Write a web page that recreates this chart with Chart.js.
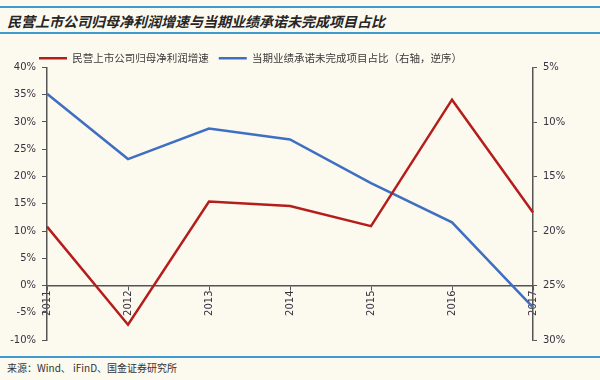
<!DOCTYPE html>
<html>
<head>
<meta charset="utf-8">
<script src="https://cdn.jsdelivr.net/npm/chart.js@4/dist/chart.umd.min.js"></script>
<style>
  html, body { margin:0; padding:0; background:#fcf9ef; }
  body { width:600px; height:380px; position:relative; overflow:hidden; font-family:"Noto Sans CJK SC", sans-serif; }
  .rule { position:absolute; left:0; width:600px; height:2px; background:#3f9bd0; }
  #title { position:absolute; left:7px; top:11px; font-family:"Noto Sans CJK SC"; font-size:14px; font-weight:bold; font-style:italic; color:#262626; white-space:nowrap; }
  #src { position:absolute; left:7px; top:360px; font-size:10px; color:#333; white-space:nowrap; }
  #c { position:absolute; left:0; top:40px; }
</style>
</head>
<body>
<div class="rule" style="top:6px"></div>
<div id="title">民营上市公司归母净利润增速与当期业绩承诺未完成项目占比</div>
<div class="rule" style="top:32px"></div>
<canvas id="c" width="600" height="312"></canvas>
<div class="rule" style="top:356px"></div>
<div id="src">来源：Wind、 iFinD、国金证券研究所</div>
<script>
const years = ["2011","2012","2013","2014","2015","2016","2017"];
const profitGrowth = [10.8, -7.2, 15.4, 14.6, 10.9, 34.1, 13.4];
const unfinishedShare = [7.4, 13.4, 10.6, 11.6, 15.6, 19.2, 27.0];
const leftTicks = [-10, 40, 5];
const rightTicks = [5, 30, 5];
const seriesNames = ["民营上市公司归母净利润增速", "当期业绩承诺未完成项目占比（右轴，逆序）"];

const axisColor = '#555555';
const tickFont = { family: 'DejaVu Sans', size: 10 };
const tickColor = '#3a3040';

const legendTweak = {
  id: 'legendTweak',
  beforeUpdate(chart) {
    const lg = chart.legend;
    if (lg && !lg._tweaked) {
      const orig = lg.fit;
      lg.fit = function () { orig.call(this); this.height -= 6; };
      lg._tweaked = true;
    }
  },
  afterLayout(chart) {
    const lg = chart.legend;
    if (lg) { const w = lg.right - lg.left; lg.left = 29; lg.right = 29 + w; }
  }
};

new Chart(document.getElementById('c'), {
  type: 'line',
  data: {
    labels: years,
    datasets: [
      { label: seriesNames[0], data: profitGrowth, yAxisID: 'y', borderColor: '#b51d1d', backgroundColor: '#b51d1d', borderWidth: 2.5, pointRadius: 0, tension: 0 },
      { label: seriesNames[1], data: unfinishedShare, yAxisID: 'y2', borderColor: '#3f6fc2', backgroundColor: '#3f6fc2', borderWidth: 2.5, pointRadius: 0, tension: 0 }
    ]
  },
  plugins: [legendTweak],
  options: {
    responsive: false,
    animation: false,
    devicePixelRatio: 1,
    layout: { padding: { left: 4, right: 4, top: 3, bottom: 8 } },
    plugins: {
      legend: {
        display: true,
        position: 'top',
        align: 'start',
        labels: { usePointStyle: true, pointStyle: 'line', pointStyleWidth: 28, boxWidth: 28, font: { family: 'Noto Sans CJK SC', size: 10.5 }, color: '#3a3a3a', padding: 10 }
      },
      tooltip: { enabled: false }
    },
    scales: {
      x: {
        type: 'category',
        position: { y: 0 },
        offset: false,
        grid: { display: true, drawOnChartArea: false, drawTicks: true, tickLength: 4, color: axisColor },
        border: { display: true, color: axisColor, width: 1.5 },
        ticks: { minRotation: 90, maxRotation: 90, font: tickFont, color: tickColor, padding: 1, autoSkip: false }
      },
      y: {
        position: 'left',
        min: leftTicks[0], max: leftTicks[1],
        grid: { display: true, drawOnChartArea: false, drawTicks: true, tickLength: 5, color: axisColor },
        border: { display: true, color: axisColor, width: 1.5 },
        ticks: { stepSize: leftTicks[2], font: tickFont, color: tickColor, padding: 6, callback: v => v + '%' },
        afterFit: s => { s.width = 43; }
      },
      y2: {
        position: 'right',
        reverse: true,
        min: rightTicks[0], max: rightTicks[1],
        grid: { display: true, drawOnChartArea: false, drawTicks: true, tickLength: 4, color: axisColor },
        border: { display: true, color: axisColor, width: 1.5 },
        ticks: { stepSize: rightTicks[2], font: tickFont, color: tickColor, padding: 6, callback: v => v + '%' },
        afterFit: s => { s.width = 63; }
      }
    }
  }
});
</script>
</body>
</html>
